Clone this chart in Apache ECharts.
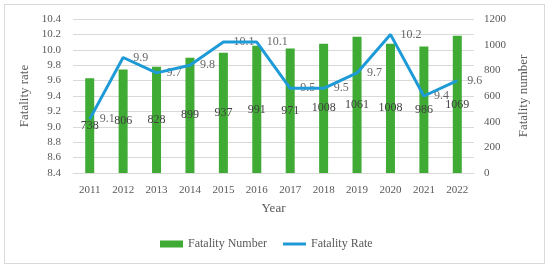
<!DOCTYPE html>
<html>
<head>
<meta charset="utf-8">
<script src="https://cdn.jsdelivr.net/npm/echarts@6/dist/echarts.min.js"></script>
<style>
  html, body { margin: 0; padding: 0; background: #fff; }
  #frame { position: absolute; left: 4px; top: 4px; width: 541px; height: 260px; border: 1px solid #d9d9d9; box-sizing: border-box; }
  #chart { width: 550px; height: 269px; }
</style>
</head>
<body>
<div id="frame"></div>
<div id="chart"></div>
<script>
const years = ['2011', '2012', '2013', '2014', '2015', '2016', '2017', '2018', '2019', '2020', '2021', '2022'];
const fatalityNumber = [738, 806, 828, 899, 937, 991, 971, 1008, 1061, 1008, 986, 1069];
const fatalityRate = [9.1, 9.9, 9.7, 9.8, 10.1, 10.1, 9.5, 9.5, 9.7, 10.2, 9.4, 9.6];

const font = 'Liberation Serif';
const textColor = '#595959';
const barColor = '#3fab35';
const lineColor = '#1e9bd7';

const legendText = { fontFamily: font, fontSize: 12, color: textColor };

const chart = echarts.init(document.getElementById('chart'));
chart.setOption({
    animation: false,
    textStyle: { fontFamily: font },
    grid: { left: 73, right: 76, top: 19, bottom: 96 },
    // 两个图例分开放, 好让折线的图标细一些
    legend: [
        {
            left: 155,
            top: 233,
            itemWidth: 23,
            itemHeight: 7,
            textStyle: legendText,
            data: [{ name: 'Fatality Number', icon: 'rect' }]
        },
        {
            left: 278,
            top: 233,
            itemWidth: 23,
            itemHeight: 3,
            textStyle: legendText,
            data: [{ name: 'Fatality Rate', icon: 'rect', itemStyle: { color: lineColor } }]
        }
    ],
    xAxis: {
        type: 'category',
        data: years,
        name: 'Year',
        nameLocation: 'middle',
        nameGap: 29,
        nameTextStyle: { fontFamily: font, fontSize: 13, color: textColor },
        axisLine: { lineStyle: { color: '#d9d9d9' } },
        axisTick: { show: false },
        axisLabel: { fontFamily: font, fontSize: 11, color: textColor, margin: 12 }
    },
    yAxis: [
        {
            type: 'value',
            min: 8.4,
            max: 10.4,
            interval: 0.2,
            name: 'Fatality rate',
            nameLocation: 'middle',
            nameGap: 36,
            nameTextStyle: { fontFamily: font, fontSize: 13, color: textColor },
            axisLine: { show: false },
            axisTick: { show: false },
            axisLabel: { fontFamily: font, fontSize: 11, color: textColor, margin: 12, formatter: v => v.toFixed(1) },
            splitLine: { lineStyle: { color: '#d9d9d9' } }
        },
        {
            type: 'value',
            min: 0,
            max: 1200,
            interval: 200,
            name: 'Fatality number',
            nameLocation: 'middle',
            nameGap: 41,
            nameRotate: 90,
            nameTextStyle: { fontFamily: font, fontSize: 13, color: textColor },
            axisLine: { show: false },
            axisTick: { show: false },
            axisLabel: { fontFamily: font, fontSize: 11, color: textColor, margin: 10, formatter: v => String(v) },
            splitLine: { show: false }
        }
    ],
    series: [
        {
            name: 'Fatality Number',
            type: 'bar',
            yAxisIndex: 1,
            data: fatalityNumber,
            barWidth: 9,
            itemStyle: { color: barColor },
            label: { show: true, position: 'inside', color: '#404040', fontFamily: font, fontSize: 12 }
        },
        {
            name: 'Fatality Rate',
            type: 'line',
            yAxisIndex: 0,
            data: fatalityRate,
            symbol: 'none',
            lineStyle: { width: 3, color: lineColor },
            itemStyle: { color: lineColor }
        },
        {
            // 只用来显示折线的数值标签
            name: 'rate labels',
            type: 'scatter',
            yAxisIndex: 0,
            data: fatalityRate,
            symbolSize: 0,
            silent: true,
            label: { show: true, position: 'right', distance: 10, color: '#404040', fontFamily: font, fontSize: 12 }
        }
    ]
});
</script>
</body>
</html>
